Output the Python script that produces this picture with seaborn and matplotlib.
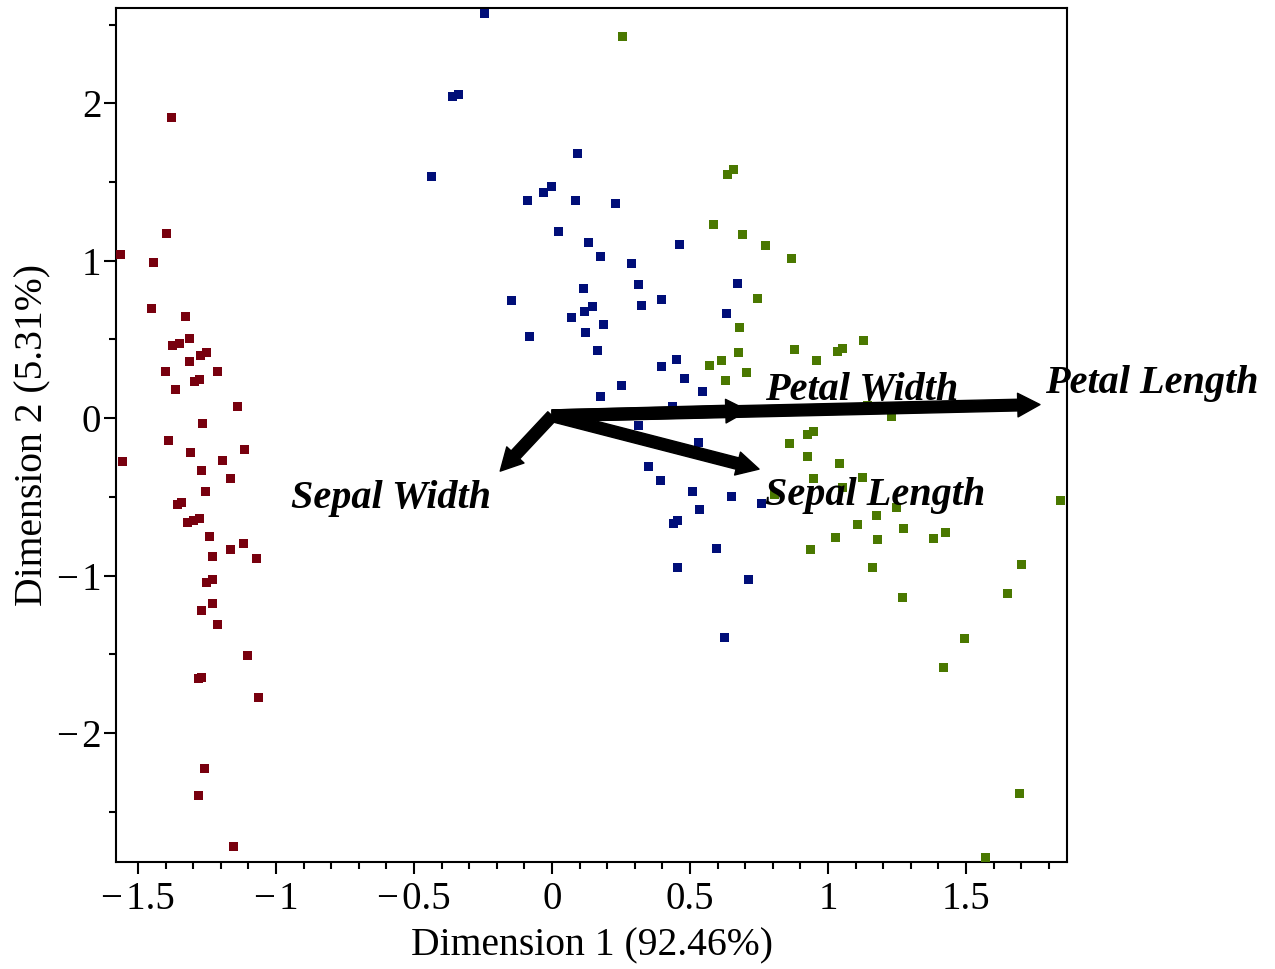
import numpy as np
import pandas as pd
import matplotlib
matplotlib.use("Agg")
import matplotlib.pyplot as plt
from matplotlib.ticker import MultipleLocator
from matplotlib.patches import FancyArrowPatch
import seaborn as sns

# PCA scores of the iris samples on the first two dimensions
setosa_d1 = [-1.379, -1.397, -1.563, -1.445, -1.452, -1.329, -1.314, -1.376, -1.350, -1.253,
             -1.274, -1.314, -1.401, -1.213, -1.278, -1.296, -1.366, -1.140, -1.267, -1.390,
             -1.115, -1.311, -1.557, -1.195, -1.271, -1.166, -1.256, -1.343, -1.358, -1.279,
             -1.300, -1.321, -1.242, -1.118, -1.166, -1.231, -1.071, -1.231, -1.253, -1.231,
             -1.271, -1.213, -1.104, -1.271, -1.282, -1.064, -1.260, -1.282, -1.155]
setosa_d2 = [1.909, 1.173, 1.039, 0.989, 0.697, 0.646, 0.506, 0.462, 0.474, 0.417,
             0.398, 0.360, 0.297, 0.297, 0.246, 0.233, 0.182, 0.074, -0.034, -0.142,
             -0.199, -0.218, -0.275, -0.269, -0.332, -0.383, -0.465, -0.535, -0.548, -0.637,
             -0.650, -0.662, -0.751, -0.796, -0.834, -0.881, -0.891, -1.024, -1.043, -1.177,
             -1.221, -1.310, -1.507, -1.646, -1.653, -1.773, -2.224, -2.396, -2.719]

versicolor_d1 = [-0.245, -0.339, -0.361, 0.092, -0.437, -0.003, -0.032, -0.089, 0.084, 0.229,
                 0.023, 0.132, 0.461, 0.175, 0.287, 0.313, 0.113, 0.671, -0.147, 0.396,
                 0.146, 0.117, 0.324, 0.632, 0.070, 0.186, -0.082, 0.121, 0.164, 0.450,
                 0.396, 0.479, 0.251, 0.545, 0.175, 0.436, 0.313, 0.530, 0.349, 0.392,
                 0.508, 0.650, 0.758, 0.534, 0.454, 0.439, 0.595, 0.454, 0.711, 0.624]
versicolor_d2 = [2.573, 2.055, 2.043, 1.681, 1.535, 1.471, 1.433, 1.382, 1.382, 1.363,
                 1.185, 1.116, 1.103, 1.027, 0.982, 0.849, 0.823, 0.855, 0.747, 0.754,
                 0.709, 0.677, 0.716, 0.665, 0.639, 0.595, 0.519, 0.544, 0.430, 0.373,
                 0.328, 0.252, 0.208, 0.170, 0.138, 0.074, -0.044, -0.154, -0.307, -0.396,
                 -0.465, -0.497, -0.542, -0.580, -0.650, -0.669, -0.827, -0.948, -1.024, -1.392]

virginica_d1 = [0.255, 0.657, 0.635, 0.584, 0.690, 0.773, 0.867, 0.744, 0.678, 1.128,
                0.675, 0.878, 1.052, 1.034, 0.613, 0.958, 0.570, 0.704, 0.628, 1.142,
                1.229, 0.947, 0.925, 0.860, 0.925, 1.041, 0.947, 1.124, 1.052, 0.805,
                1.844, 1.247, 1.175, 1.106, 1.273, 1.425, 1.382, 1.026, 1.179, 0.936,
                1.160, 1.700, 1.269, 1.650, 1.494, 1.418, 1.693, 1.570]
virginica_d2 = [2.423, 1.579, 1.547, 1.230, 1.166, 1.097, 1.014, 0.760, 0.576, 0.493,
                0.417, 0.436, 0.443, 0.423, 0.366, 0.366, 0.335, 0.290, 0.237, 0.077,
                0.011, -0.084, -0.103, -0.161, -0.241, -0.287, -0.382, -0.375, -0.441, -0.488,
                -0.521, -0.567, -0.618, -0.679, -0.699, -0.724, -0.766, -0.757, -0.770, -0.832,
                -0.946, -0.933, -1.137, -1.117, -1.397, -1.587, -2.387, -2.790]

# Variable loadings (arrow tips) and where their names are written
variables = ["Petal Length", "Petal Width", "Sepal Length", "Sepal Width"]
loading_d1 = [1.768, 0.710, 0.750, -0.188]
loading_d2 = [0.086, 0.048, -0.324, -0.337]
label_d1 = [2.174, 1.123, 1.170, -0.583]
label_d2 = [0.222, 0.178, -0.489, -0.508]

x_ticks = [-1.5, -1.0, -0.5, 0.0, 0.5, 1.0, 1.5]
x_tick_labels = ["\u2212\u200a1.5", "\u2212\u200a1", "\u2212\u200a0.5", "0", "0.5", "1", "1.5"]
y_ticks = [-2, -1, 0, 1, 2]
y_tick_labels = ["\u2212\u200a2", "\u2212\u200a1", "0", "1", "2"]

species_colors = {"setosa": "#78000E", "versicolor": "#000E78", "virginica": "#4A7800"}

df = pd.DataFrame({
    "d1": setosa_d1 + versicolor_d1 + virginica_d1,
    "d2": setosa_d2 + versicolor_d2 + virginica_d2,
    "species": (["setosa"] * len(setosa_d1) + ["versicolor"] * len(versicolor_d1)
                + ["virginica"] * len(virginica_d1)),
})

sns.set_style("ticks")
plt.rcParams["font.family"] = ["Liberation Serif", "DejaVu Serif"]
plt.rcParams["text.color"] = "black"
plt.rcParams["axes.labelcolor"] = "black"
plt.rcParams["xtick.color"] = "black"
plt.rcParams["ytick.color"] = "black"

fig = plt.figure(figsize=(12.75, 9.69), dpi=100)
ax = fig.add_axes([0.0910, 0.1104, 0.7459, 0.8813])

sns.scatterplot(data=df, x="d1", y="d2", hue="species", palette=species_colors,
                marker="s", s=42, linewidth=0, legend=False, ax=ax, zorder=3)

# Loading arrows from the origin
for tx, ty in zip(loading_d1, loading_d2):
    arrow = FancyArrowPatch((0.0, 0.015), (tx, ty),
                            arrowstyle="simple,head_length=0.8,head_width=0.85,tail_width=0.42",
                            mutation_scale=20, color="black", shrinkA=0, shrinkB=0,
                            zorder=4)
    ax.add_patch(arrow)

for name, lx, ly in zip(variables, label_d1, label_d2):
    ax.text(lx, ly, name, ha="center", va="center", fontsize=29, color="black",
            fontweight="bold", fontstyle="italic", clip_on=False, zorder=5)

ax.set_xlim(-1.58, 1.866)
ax.set_ylim(-2.82, 2.605)
ax.set_xticks(x_ticks)
ax.set_xticklabels(x_tick_labels)
ax.set_yticks(y_ticks)
ax.set_yticklabels(y_tick_labels)
ax.xaxis.set_minor_locator(MultipleLocator(0.1))
ax.yaxis.set_minor_locator(MultipleLocator(0.5))
ax.tick_params(which="both", direction="out", width=1.5, color="black",
               labelcolor="black", top=False, right=False, labelsize=28)
ax.tick_params(which="major", length=8.6)
ax.tick_params(which="minor", length=5)
ax.tick_params(axis="x", pad=5)
ax.tick_params(axis="y", pad=2)

for side in ["left", "right", "top", "bottom"]:
    ax.spines[side].set_visible(True)
    ax.spines[side].set_linewidth(1.5)
    ax.spines[side].set_color("black")

ax.set_xlabel("Dimension 1 (92.46%)", fontsize=28.5, labelpad=7)
ax.set_ylabel("Dimension 2 (5.31%)", fontsize=28.5, labelpad=4)

fig.savefig("out.png", dpi=100, facecolor="white")
